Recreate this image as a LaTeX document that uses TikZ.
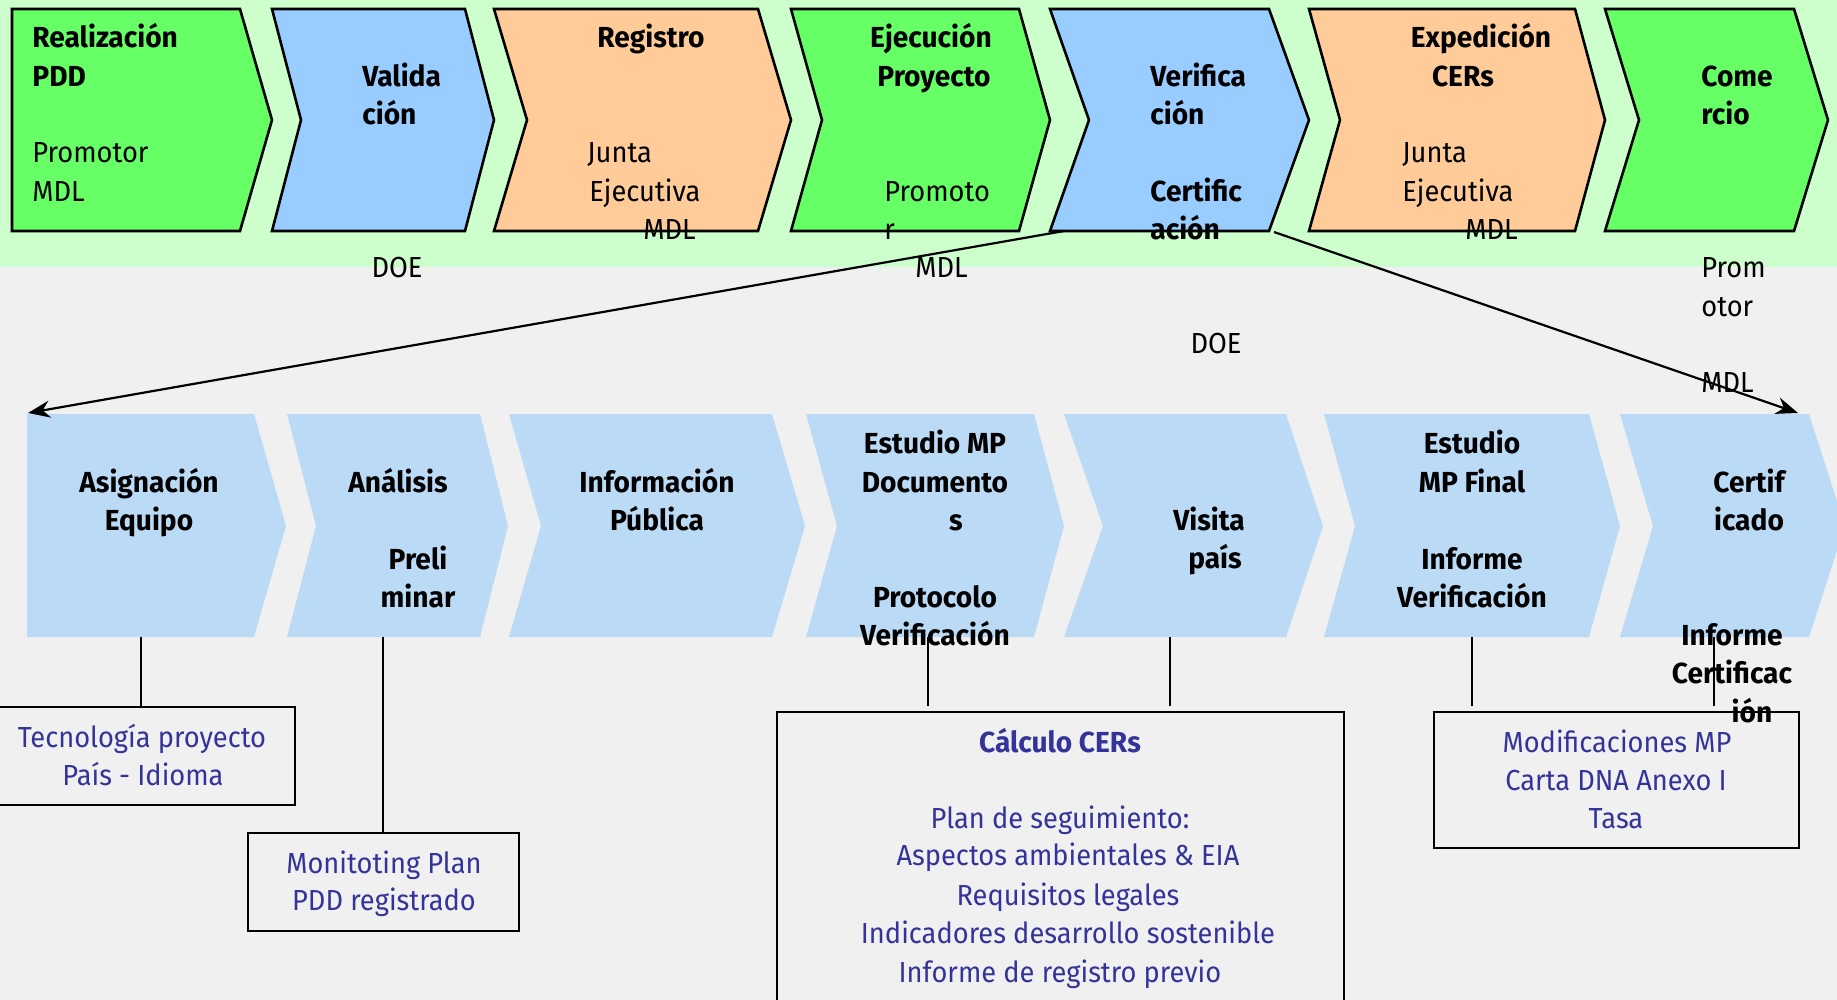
\documentclass[tikz,border=0pt]{standalone}
\usepackage{fontspec}
\setmainfont{Fira Sans}[FakeStretch=0.94, BoldFeatures={FakeStretch=0.97}]
\usetikzlibrary{arrows.meta}
\definecolor{bandgreen}{HTML}{CCFFCC}
\definecolor{bggray}{HTML}{F0F0F0}
\definecolor{chgreen}{HTML}{66FF66}
\definecolor{chblue}{HTML}{99CCFF}
\definecolor{chorange}{HTML}{FFCC99}
\definecolor{lowblue}{HTML}{BBDAF5}
\definecolor{boxblue}{HTML}{333399}
\tikzset{
  chtop/.style={draw=black, line width=1.3pt, line join=miter},
  chlow/.style={fill=lowblue},
  bt/.style={font=\bfseries\fontsize{14.5}{17}\selectfont, inner sep=0pt, text=black},
  rt/.style={font=\fontsize{14.5}{17}\selectfont, inner sep=0pt, text=black},
  blt/.style={font=\fontsize{14.5}{17}\selectfont, inner sep=0pt, text=boxblue},
  bbt/.style={font=\bfseries\fontsize{14.5}{17}\selectfont, inner sep=0pt, text=boxblue},
  bx/.style={draw=black, line width=1.3pt, fill=bggray, inner sep=0pt},
  conn/.style={line width=1.1pt},
  arr/.style={line width=1.1pt, -{Stealth[length=11pt,width=8.5pt]}}
}
\begin{document}
\begin{tikzpicture}[x=0.5pt,y=-0.5pt]
\useasboundingbox (0,0) rectangle (1837,1000);
\clip (0,0) rectangle (1837,1000);
\fill[bggray] (0,0) rectangle (1837,1000);
\fill[bandgreen] (0,0) rectangle (1837,267);

% top row chevrons
\draw[chtop, fill=chgreen] (12,9) -- (240,9) -- (272,120) -- (240,231) -- (12,231) -- cycle;
\draw[chtop, fill=chblue] (272,9) -- (465,9) -- (494,120) -- (465,231) -- (272,231) -- (301,120) -- cycle;
\draw[chtop, fill=chorange] (494,9) -- (758,9) -- (791,120) -- (758,231) -- (494,231) -- (527,120) -- cycle;
\draw[chtop, fill=chgreen] (791,9) -- (1019,9) -- (1050,120) -- (1019,231) -- (791,231) -- (822,120) -- cycle;
\draw[chtop, fill=chblue] (1050,9) -- (1269,9) -- (1309,120) -- (1269,231) -- (1050,231) -- (1089,120) -- cycle;
\draw[chtop, fill=chorange] (1309,9) -- (1575,9) -- (1605,120) -- (1575,231) -- (1309,231) -- (1340,120) -- cycle;
\draw[chtop, fill=chgreen] (1605,9) -- (1794,9) -- (1828,120) -- (1794,231) -- (1605,231) -- (1639,120) -- cycle;

% lower row chevrons
\fill[chlow] (27,414) -- (254,414) -- (286,526) -- (254,637) -- (27,637) -- cycle;
\fill[chlow] (287,414) -- (480,414) -- (508,526) -- (480,637) -- (287,637) -- (316,526) -- cycle;
\fill[chlow] (509,414) -- (772,414) -- (805,526) -- (772,637) -- (509,637) -- (541,526) -- cycle;
\fill[chlow] (806,414) -- (1034,414) -- (1064,526) -- (1034,637) -- (806,637) -- (837,526) -- cycle;
\fill[chlow] (1064,414) -- (1286,414) -- (1323,526) -- (1286,637) -- (1064,637) -- (1103,526) -- cycle;
\fill[chlow] (1324,414) -- (1589,414) -- (1620,526) -- (1589,637) -- (1324,637) -- (1355,526) -- cycle;
\fill[chlow] (1620,414) -- (1809,414) -- (1845,526) -- (1809,637) -- (1620,637) -- (1653,526) -- cycle;

% coordinates
\coordinate (vbl) at (1064,231);
\coordinate (vbr) at (1274,232);
\coordinate (ea) at (28,413);
\coordinate (eg) at (1798,413);
\coordinate (cA) at (141,637);
\coordinate (cB) at (383,637);
\coordinate (cD) at (928,637);
\coordinate (cE) at (1170,637);
\coordinate (cF) at (1472,637);
\coordinate (cG) at (1714,637);

% boxes
\node[bx, minimum width=149.5pt, minimum height=49pt] (b1) at (145.5,756) {};
\node[bx, minimum width=135.5pt, minimum height=49pt] (b2) at (383.5,882) {};
\node[bx, minimum width=283.5pt, minimum height=149pt] (b3) at (1060.5,861) {};
\node[bx, minimum width=182.5pt, minimum height=68pt] (b4) at (1616.5,780) {};

% connectors
\draw[conn] (cA) -- (cA |- b1.north);
\draw[conn] (cB) -- (cB |- b2.north);
\draw[conn] (cD) -- ([yshift=2.5pt]cD |- b3.north);
\draw[conn] (cE) -- ([yshift=2.5pt]cE |- b3.north);
\draw[conn] (cF) -- ([yshift=2.5pt]cF |- b4.north);
\draw[conn] (cG) -- ([yshift=2.5pt]cG |- b4.north);

% arrows
\draw[arr] (vbl) -- (ea);
\draw[arr] (vbr) -- (eg);

% top row texts
\node[bt, anchor=base west] (t1a) at (32,48) {Realización};
\node[bt, anchor=base west] (t1b) at (32,87) {PDD};
\node[rt, anchor=base west] (t1c) at (32,163) {Promotor};
\node[rt, anchor=base west] (t1d) at (32,202) {MDL};

\node[bt, anchor=base west] (t2a) at (362,87) {Valida};
\node[bt, anchor=base west] (t2b) at (362,125) {ción};
\node[rt, anchor=base] (t2c) at (397,278) {DOE};

\node[bt, anchor=base] (t3a) at (651,48) {Registro};
\node[rt, anchor=base west] (t3b) at (587,163) {Junta};
\node[rt, anchor=base west] (t3c) at (589,202) {Ejecutiva};
\node[rt, anchor=base west] (t3d) at (643,240) {MDL};

\node[bt, anchor=base] (t4a) at (931,48) {Ejecución};
\node[bt, anchor=base] (t4b) at (934,87) {Proyecto};
\node[rt, anchor=base west] (t4c) at (884,202) {Promoto};
\node[rt, anchor=base west] (t4d) at (884,240) {r};
\node[rt, anchor=base west] (t4e) at (915,278) {MDL};

\node[bt, anchor=base west] (t5a) at (1150,87) {Verifica};
\node[bt, anchor=base west] (t5b) at (1150,125) {ción};
\node[bt, anchor=base west] (t5c) at (1150,202) {Certific};
\node[bt, anchor=base west] (t5d) at (1150,240) {ación};
\node[rt, anchor=base] (t5e) at (1216,354) {DOE};

\node[bt, anchor=base] (t6a) at (1481,48) {Expedición};
\node[bt, anchor=base] (t6b) at (1463,87) {CERs};
\node[rt, anchor=base west] (t6c) at (1402,163) {Junta};
\node[rt, anchor=base west] (t6d) at (1402,202) {Ejecutiva};
\node[rt, anchor=base west] (t6e) at (1465,240) {MDL};

\node[bt, anchor=base west] (t7a) at (1701,87) {Come};
\node[bt, anchor=base west] (t7b) at (1701,125) {rcio};
\node[rt, anchor=base west] (t7c) at (1701,278) {Prom};
\node[rt, anchor=base west] (t7d) at (1701,316) {otor};
\node[rt, anchor=base west] (t7e) at (1701,393) {MDL};

% lower row texts
\node[bt, anchor=base] (lAa) at (149,492) {Asignación};
\node[bt, anchor=base] (lAb) at (149,530) {Equipo};

\node[bt, anchor=base] (lBa) at (398,492) {Análisis};
\node[bt, anchor=base] (lBb) at (418,569) {Preli};
\node[bt, anchor=base] (lBc) at (418,607) {minar};

\node[bt, anchor=base] (lCa) at (657,492) {Información};
\node[bt, anchor=base] (lCb) at (657,530) {Pública};

\node[bt, anchor=base] (lDa) at (935,453) {Estudio MP};
\node[bt, anchor=base] (lDb) at (935,492) {Documento};
\node[bt, anchor=base] (lDc) at (956,530) {s};
\node[bt, anchor=base] (lDd) at (935,607) {Protocolo};
\node[bt, anchor=base] (lDe) at (935,645) {Verificación};

\node[bt, anchor=base] (lEa) at (1209,530) {Visita};
\node[bt, anchor=base] (lEb) at (1215,568) {país};

\node[bt, anchor=base] (lFa) at (1472,453) {Estudio};
\node[bt, anchor=base] (lFb) at (1472,492) {MP Final};
\node[bt, anchor=base] (lFc) at (1472,569) {Informe};
\node[bt, anchor=base] (lFd) at (1472,607) {Verificación};

\node[bt, anchor=base] (lGa) at (1749,492) {Certif};
\node[bt, anchor=base] (lGb) at (1749,530) {icado};
\node[bt, anchor=base] (lGc) at (1732,645) {Informe};
\node[bt, anchor=base] (lGd) at (1732,683) {Certificac};
\node[bt, anchor=base] (lGe) at (1752,722) {ión};

% box texts
\node[blt, anchor=base] (x1a) at (142,747) {Tecnología proyecto};
\node[blt, anchor=base] (x1b) at (143,785) {País - Idioma};

\node[blt, anchor=base] (x2a) at (384,873) {Monitoting Plan};
\node[blt, anchor=base] (x2b) at (384,910) {PDD registrado};

\node[bbt, anchor=base] (x3a) at (1060,752) {Cálculo CERs};
\node[blt, anchor=base] (x3b) at (1060,828) {Plan de seguimiento:};
\node[blt, anchor=base] (x3c) at (1068,865) {Aspectos ambientales \& EIA};
\node[blt, anchor=base] (x3d) at (1068,905) {Requisitos legales};
\node[blt, anchor=base] (x3e) at (1068,943) {Indicadores desarrollo sostenible};
\node[blt, anchor=base] (x3f) at (1060,982) {Informe de registro previo};

\node[blt, anchor=base] (x4a) at (1617,752) {Modificaciones MP};
\node[blt, anchor=base] (x4b) at (1616,790) {Carta DNA Anexo I};
\node[blt, anchor=base] (x4c) at (1616,828) {Tasa};
\end{tikzpicture}
\end{document}
